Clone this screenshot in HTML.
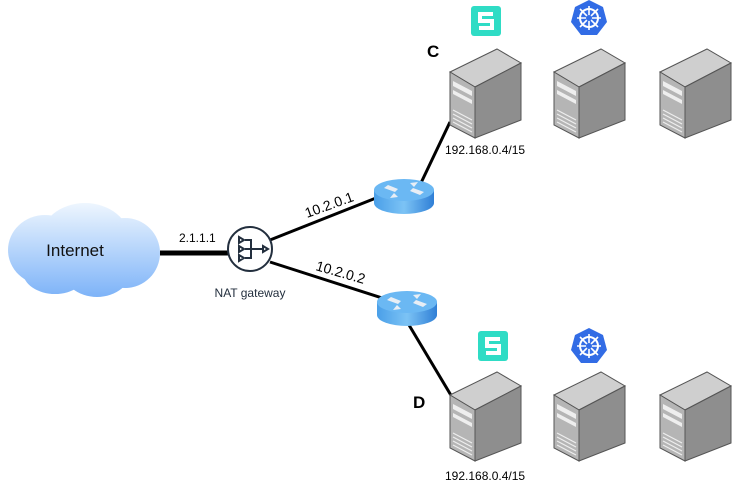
<!DOCTYPE html>
<html><head><style>body{margin:0;background:#fff}svg{display:block}text{font-family:"Liberation Sans",sans-serif}</style></head><body>
<svg width="732" height="490" viewBox="0 0 732 490" xmlns="http://www.w3.org/2000/svg">
<defs>
<linearGradient id="cl" gradientUnits="userSpaceOnUse" x1="0" y1="203" x2="0" y2="297"><stop offset="0" stop-color="#eef6fe"/><stop offset="1" stop-color="#7db3f8"/></linearGradient>
<linearGradient id="rt" x1="0" y1="0" x2="1" y2="0"><stop offset="0" stop-color="#4a9fe8"/><stop offset="0.5" stop-color="#7cc3f5"/><stop offset="1" stop-color="#2f7fd6"/></linearGradient>
<g id="srv">
<polygon points="0,23 47,0 71,14 25,38" fill="#cfcfcf" stroke="#555" stroke-width="1"/>
<polygon points="0,23 25,38 25,89 0,76" fill="#b5b5b5" stroke="#555" stroke-width="1"/>
<polygon points="25,38 71,14 71,71 25,89" fill="#8e8e8e" stroke="#555" stroke-width="1"/>
<polygon points="3,32 22,42 22,47 3,37" fill="#eee"/>
<polygon points="3,41 22,51 22,55 3,45" fill="#eee"/>
<g stroke="#eee" stroke-width="1.2"><line x1="3" y1="61" x2="22" y2="71"/><line x1="3" y1="65" x2="22" y2="75"/><line x1="3" y1="69" x2="22" y2="79"/><line x1="3" y1="73" x2="22" y2="83"/></g>
</g>
<g id="si"><rect x="0" y="0" width="30" height="30" rx="3" fill="#2fdcc5"/><path d="M22 8H9v7h12v7H8" fill="none" stroke="#fff" stroke-width="4"/></g>
<g id="k8"><polygon points="17,0 31,7 35,22 25,35 9,35 -1,22 3,7" fill="#326ce5"/><circle cx="17" cy="18" r="9" fill="none" stroke="#fff" stroke-width="2"/><g stroke="#fff" stroke-width="1.6"><line x1="17" y1="6" x2="17" y2="30"/><line x1="5" y1="18" x2="29" y2="18"/><line x1="8" y1="9" x2="26" y2="27"/><line x1="26" y1="9" x2="8" y2="27"/></g><circle cx="17" cy="18" r="3" fill="#326ce5"/></g>
<g id="rtr"><path d="M-30 0v13a30 11 0 0 0 60 0V0z" fill="url(#rt)"/><ellipse cx="0" cy="0" rx="30" ry="11" fill="#6bb8f3"/><g fill="#e8eef5"><polygon points="-16,-5 -6,-1 -9,2 -20,-2"/><polygon points="16,5 6,1 9,-2 20,2"/><polygon points="6,-7 14,-8 10,-3"/><polygon points="-6,7 -14,8 -10,3"/></g></g>
</defs>
<g fill="url(#cl)">
<ellipse cx="45" cy="250" rx="37" ry="35"/><ellipse cx="85" cy="240" rx="45" ry="37"/><ellipse cx="125" cy="253" rx="35" ry="35"/><ellipse cx="97" cy="268" rx="35" ry="29"/><ellipse cx="55" cy="272" rx="32" ry="22"/><rect x="10" y="240" width="148" height="30" rx="12"/>
</g>
<text x="75" y="256" font-size="17" text-anchor="middle" fill="#111">Internet</text>
<g stroke="#000" stroke-width="3">
<line x1="160" y1="253" x2="228" y2="253" stroke-width="5"/>
<line x1="270" y1="240" x2="376" y2="198"/>
<line x1="270" y1="262" x2="382" y2="298"/>
<line x1="450" y1="122" x2="420" y2="185"/>
<line x1="409" y1="325" x2="452" y2="397"/>
</g>
<circle cx="250" cy="249" r="22" fill="#fff" stroke="#232f3e" stroke-width="2"/>
<g stroke="#232f3e" stroke-width="2" fill="none"><path d="M239 237l5 3-5 3zM239 246l5 3-5 3zM239 255l5 3-5 3zM245 240h6v18h-6M245 249h18M263 246l5 3-5 3z"/></g>
<text x="179" y="242" font-size="12">2.1.1.1</text>
<text x="250" y="297" font-size="12" text-anchor="middle" fill="#232f3e">NAT gateway</text>
<text x="307" y="218" font-size="14" transform="rotate(-20 307 218)">10.2.0.1</text>
<text x="315" y="270" font-size="14" transform="rotate(16 315 270)">10.2.0.2</text>
<use href="#rtr" x="404" y="190"/>
<use href="#rtr" x="407" y="302"/>
<use href="#srv" x="450" y="49"/><use href="#srv" x="554" y="49"/><use href="#srv" x="660" y="49"/>
<use href="#srv" x="450" y="372"/><use href="#srv" x="554" y="372"/><use href="#srv" x="660" y="372"/>
<use href="#si" x="471" y="6"/><use href="#k8" x="572" y="0"/>
<use href="#si" x="478" y="331"/><use href="#k8" x="572" y="328"/>
<text x="427" y="57" font-size="17" font-weight="bold">C</text>
<text x="413" y="408" font-size="17" font-weight="bold">D</text>
<text x="445" y="154" font-size="12">192.168.0.4/15</text>
<text x="445" y="480" font-size="12">192.168.0.4/15</text>
</svg>
</body></html>
